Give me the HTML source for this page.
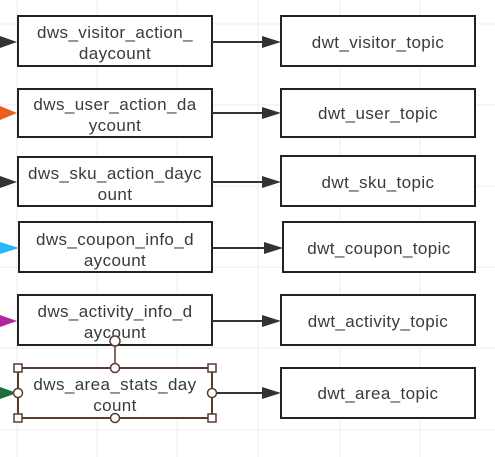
<!DOCTYPE html>
<html><head><meta charset="utf-8"><style>
body{margin:0;width:495px;height:457px;background:#fff;overflow:hidden}
svg{display:block}
text{font-family:"Liberation Sans","Noto Sans CJK SC",sans-serif;font-size:17px;letter-spacing:0.4px;fill:#3a3a3a;text-anchor:middle}
</style></head><body>
<svg width="495" height="457" viewBox="0 0 495 457">
<g stroke="#eeeeee" stroke-width="1">
<line x1="17" y1="0" x2="17" y2="457"/><line x1="97" y1="0" x2="97" y2="457"/><line x1="177" y1="0" x2="177" y2="457"/><line x1="258" y1="0" x2="258" y2="457"/><line x1="340" y1="0" x2="340" y2="457"/><line x1="420" y1="0" x2="420" y2="457"/>
<line x1="0" y1="24" x2="495" y2="24"/><line x1="0" y1="105" x2="495" y2="105"/><line x1="0" y1="186" x2="495" y2="186"/><line x1="0" y1="267" x2="495" y2="267"/><line x1="0" y1="348" x2="495" y2="348"/><line x1="0" y1="430" x2="495" y2="430"/>
</g>
<g fill="#fff" stroke="#222" stroke-width="2">
<rect x="18" y="16" width="194" height="50"/><rect x="18" y="89" width="194" height="48"/><rect x="18" y="157" width="194" height="49"/><rect x="19" y="222" width="193" height="50"/><rect x="18" y="295" width="194" height="50"/>
<rect x="281" y="16" width="194" height="50"/><rect x="281" y="89" width="194" height="48"/><rect x="281" y="156" width="194" height="50"/><rect x="283" y="222" width="192" height="50"/><rect x="281" y="295" width="194" height="50"/><rect x="281" y="368" width="194" height="50"/>
</g>
<rect x="18" y="368" width="194" height="50" fill="#fff" stroke="#5a3a33" stroke-width="2"/>
<g stroke="#333" stroke-width="2">
<line x1="212" y1="42" x2="265" y2="42"/><line x1="212" y1="113" x2="265" y2="113"/><line x1="212" y1="182" x2="265" y2="182"/><line x1="212" y1="248" x2="267" y2="248"/><line x1="212" y1="321" x2="265" y2="321"/><line x1="212" y1="393" x2="265" y2="393"/>
</g>
<g fill="#333">
<polygon points="262,36 281,42 262,48"/><polygon points="262,107 281,113 262,119"/><polygon points="262,176 281,182 262,188"/><polygon points="264,242 283,248 264,254"/><polygon points="262,315 281,321 262,327"/><polygon points="262,387 281,393 262,399"/>
<polygon points="0,36 17,42 0,48"/><polygon points="0,176 17,182 0,188"/>
</g>
<polygon fill="#e8601c" points="0,106 17,113 0,120"/>
<polygon fill="#29b6f6" points="0,242 19,248 0,254"/>
<polygon fill="#b0269b" points="0,315 17,321 0,327"/>
<polygon fill="#1b6e3a" points="0,387 17,393 0,399"/>
<text x="115" y="38">dws_visitor_action_</text><text x="115" y="59">daycount</text>
<text x="115" y="110">dws_user_action_da</text><text x="115" y="131">ycount</text>
<text x="115" y="179">dws_sku_action_dayc</text><text x="115" y="200">ount</text>
<text x="115" y="245">dws_coupon_info_d</text><text x="115" y="266">aycount</text>
<text x="115" y="317">dws_activity_info_d</text><text x="115" y="338">aycount</text>
<text x="115" y="390">dws_area_stats_day</text><text x="115" y="411">count</text>
<text x="378" y="48">dwt_visitor_topic</text>
<text x="378" y="119">dwt_user_topic</text>
<text x="378" y="188">dwt_sku_topic</text>
<text x="379" y="254">dwt_coupon_topic</text>
<text x="378" y="327">dwt_activity_topic</text>
<text x="378" y="399">dwt_area_topic</text>
<g stroke="#5a3a33" stroke-width="1.5" fill="#fff">
<line x1="115" y1="341" x2="115" y2="368"/>
<circle cx="115" cy="341" r="5"/>
<circle cx="115" cy="368" r="4.5"/><circle cx="115" cy="418" r="4.5"/><circle cx="18" cy="393" r="4.5"/><circle cx="212" cy="393" r="4.5"/>
<rect x="14" y="364" width="8" height="8"/><rect x="208" y="364" width="8" height="8"/><rect x="14" y="414" width="8" height="8"/><rect x="208" y="414" width="8" height="8"/>
</g>
</svg>
</body></html>
